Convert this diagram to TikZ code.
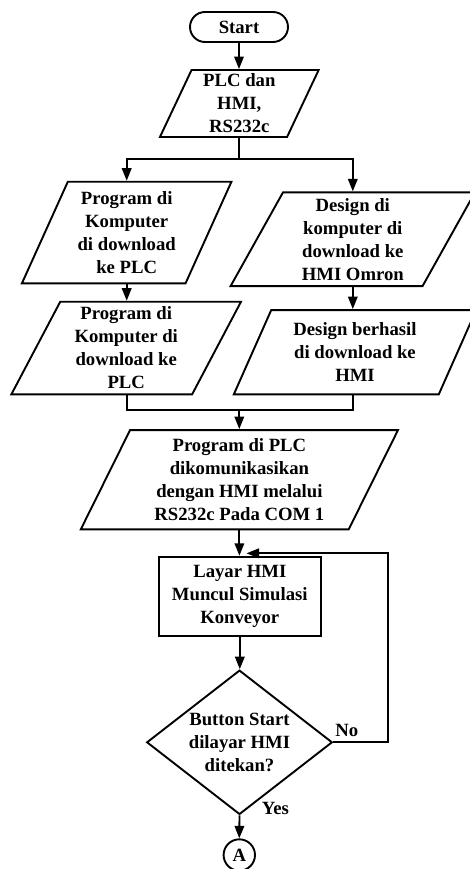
\documentclass[tikz,border=0pt]{standalone}
\usepackage{fontspec}
\setmainfont{Liberation Serif}
\usetikzlibrary{shapes.geometric,arrows.meta,calc}
\begin{document}
\begin{tikzpicture}[x=1pt,y=-1pt,
  every node/.style={font=\fontsize{18.7}{23}\selectfont\bfseries, align=center, inner sep=0pt},
  line/.style={line width=1.9pt},
  arr/.style={line width=1.9pt, -{Triangle[length=12.5pt,width=9.5pt]}},
  para/.style={trapezium, trapezium left angle=65, trapezium right angle=115,
    trapezium stretches=true, draw, line width=1.9pt},
  term/.style={rectangle, rounded corners=15pt, draw, line width=1.9pt},
  proc/.style={rectangle, draw, line width=1.9pt},
  decision/.style={diamond, draw, line width=1.9pt},
  conn/.style={circle, draw, line width=1.9pt}
]
\useasboundingbox (0,0) rectangle (470,869);

\node[term, minimum width=98pt, minimum height=30pt] (start) at (239,27) {Start};
\node[para, trapezium left angle=68, trapezium right angle=112,
      minimum width=159pt, minimum height=67pt] (plc) at (239.3,103.5) {PLC dan\\HMI,\\RS232c};
\node[para, minimum width=210pt, minimum height=101.6pt] (left1) at (126.7,232.5)
  {Program di\\Komputer\\di download\\ke PLC};
\node[para, minimum width=229.7pt, minimum height=92.6pt] (left2) at (126.2,348)
  {Program di\\Komputer di\\download ke\\PLC};
\node[para, minimum width=245pt, minimum height=93.7pt] (right1) at (352.8,239.2)
  {Design di\\komputer di\\download ke\\HMI Omron};
\node[para, minimum width=243pt, minimum height=84.3pt] (right2) at (355,352.2)
  {Design berhasil\\di download ke\\HMI};
\node[para, minimum width=318.3pt, minimum height=99.3pt] (big) at (239.4,479.7)
  {Program di PLC\\dikomunikasikan\\dengan HMI melalui\\RS232c Pada COM 1};
\node[proc, minimum width=161.7pt, minimum height=79pt] (proc) at (239.8,596.2)
  {Layar HMI\\Muncul Simulasi\\Konveyor};
\node[decision, minimum width=185.6pt, minimum height=144.3pt,
      label={center:Button Start\\dilayar HMI\\ditekan?}] (dia) at (239.5,742.3) {};
\node[conn, minimum size=31.4pt] (A) at (239.3,855) {A};
\node (no) at (346.7,730.5) {No};
\node (yes) at (275.5,808.3) {Yes};

\coordinate (split) at (239.3,159.3);
\coordinate (merge) at (239.3,410);
\coordinate (loopR) at (388.3,553.3);
\coordinate (loopEnd) at (246.5,553.3);

\draw[arr] (start.south) -- (start.south |- plc.north);
\draw[line] (plc.center |- plc.south) -- (split);
\draw[arr] (split) -| (left1.center |- left1.north);
\draw[arr] (split) -| (right1.center |- right1.north);
\draw[arr] (left1.center |- left1.south) -- (left1.center |- left2.north);
\draw[arr] (right1.center |- right1.south) -- (right1.center |- right2.north);
\draw[line] (left1.center |- left2.south) |- (merge);
\draw[line] (right1.center |- right2.south) |- (merge);
\draw[arr] (merge) -- (merge |- big.north);
\draw[arr] (big.center |- big.south) -- (big.center |- proc.north);
\draw[arr] (proc.south) -- (proc.south |- dia.north);
\draw[arr] (dia.east) -| (loopR) -- (loopEnd);
\draw[arr] (dia.south) -- (A.north);
\end{tikzpicture}
\end{document}
